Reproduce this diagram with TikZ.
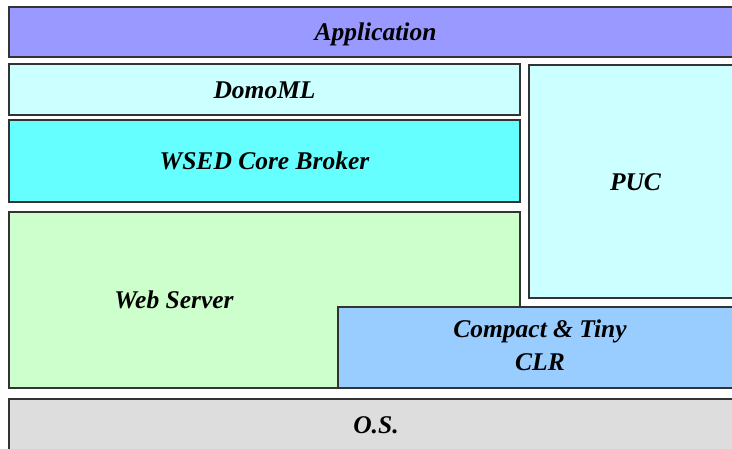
\documentclass[tikz,border=0pt]{standalone}
\usepackage{fontspec}
\setmainfont{Liberation Serif}
\definecolor{appblue}{HTML}{9999FF}
\definecolor{palecyan}{HTML}{CCFFFF}
\definecolor{brokercyan}{HTML}{66FFFF}
\definecolor{webgreen}{HTML}{CCFFCC}
\definecolor{clrblue}{HTML}{99CCFF}
\definecolor{osgrey}{HTML}{DDDDDD}
\begin{document}
\begin{tikzpicture}[x=1pt, y=-1pt,
layer/.style={draw=black!80, line width=1.1pt, inner sep=0pt, outer sep=0pt,
  anchor=north west, font=\fontsize{25.5}{33}\selectfont\bfseries\itshape,
  text height=17pt, text depth=0pt},
label text/.style={inner sep=0pt, font=\fontsize{25.5}{33}\selectfont\bfseries\itshape,
  align=center}]
\useasboundingbox (0,0) rectangle (732,448);
\clip (0,0) rectangle (732,448);
% stack of layers, top to bottom
\node[layer, fill=appblue, minimum width=733, minimum height=50] (app) at (9,7) {Application};
\node[layer, fill=palecyan, minimum width=511, minimum height=51] (domo) at (9,64) {DomoML};
\node[layer, fill=brokercyan, minimum width=511, minimum height=82] (broker) at (9,120) {WSED Core Broker};
\node[layer, fill=palecyan, minimum width=213, minimum height=233] (puc) at (529,65) {PUC};
\node[layer, fill=webgreen, minimum width=511, minimum height=176] (web) at (9,212) {};
\node[label text, text height=17pt, text depth=0pt] (webtxt) at (174,300) {Web Server};
\node[layer, fill=clrblue, minimum width=404, minimum height=81] (clr) at (338,307) {};
\node[label text, anchor=base] (clrtxt) at (540,370) {Compact \& Tiny\\CLR};
\node[layer, fill=osgrey, minimum width=733, minimum height=60] (os) at (9,399) {};
\node[label text, text height=17pt, text depth=0pt] (ostxt) at (376,424.5) {O.S.};
\end{tikzpicture}
\end{document}
